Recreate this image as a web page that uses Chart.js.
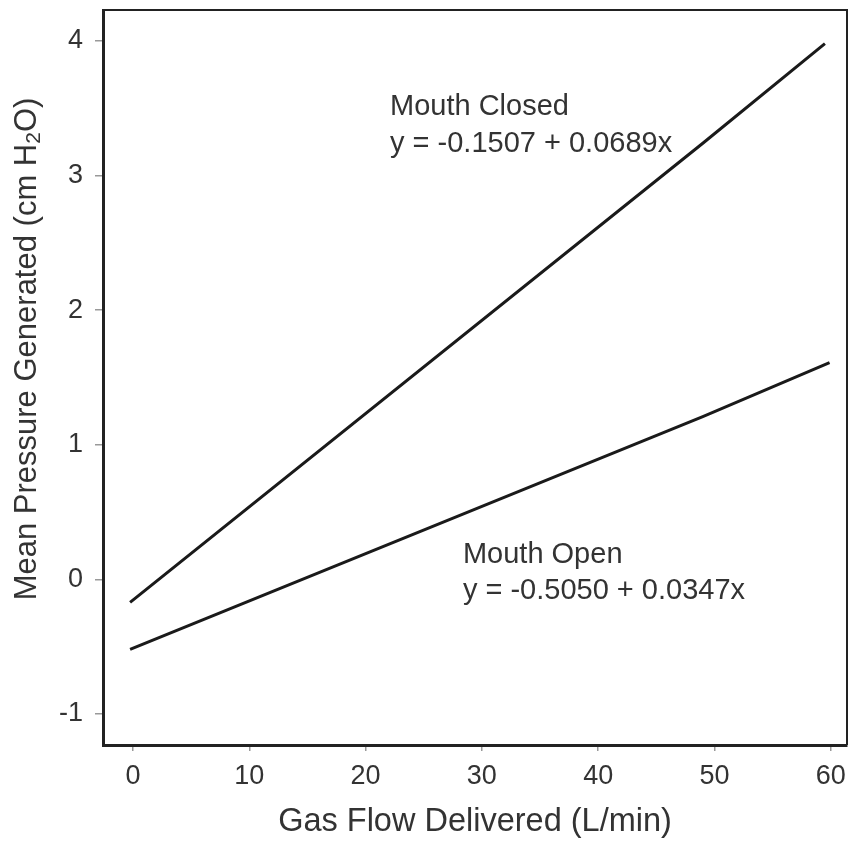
<!DOCTYPE html>
<html>
<head>
<meta charset="utf-8">
<script src="https://cdn.jsdelivr.net/npm/chart.js@4/dist/chart.umd.min.js"></script>
<style>
  html, body { margin: 0; padding: 0; background: #fff; }
  #wrap { width: 851px; height: 842px; }
</style>
</head>
<body>
<div id="wrap"><canvas id="flowChart" width="851" height="842"></canvas></div>
<script>
// -----------------------------------------
// Gas flow vs. mean pressure, two fitted lines
// -----------------------------------------

const xTicks = [0, 10, 20, 30, 40, 50, 60];
const yTicks = [-1, 0, 1, 2, 3, 4];

// fitted line end points (flow, pressure)
const closedFlow = [-0.25, 49, 59.5];
const closedPressure = [-0.17, 3.24, 3.98];
const openFlow = [-0.25, 49, 59.9];
const openPressure = [-0.52, 1.21, 1.61];

// equation labels: [flow, pressure at text baseline, text]
const labels = [
    [22.1, 3.45, "Mouth Closed"],
    [22.1, 3.175, "y = -0.1507 + 0.0689x"],
    [28.37, 0.122, "Mouth Open"],
    [28.37, -0.146, "y = -0.5050 + 0.0347x"]
];

const textColor = "#333";
const fontFamily = "'Liberation Sans', Arial, sans-serif";

function toPoints(xs, ys){
    return xs.map((x, i) => ({ x: x, y: ys[i] }));
}

// y axis title with a real subscript 2
function drawYTitle(c, cx, cy){
    const big = "31px " + fontFamily;
    const small = "21px " + fontFamily;
    const parts = [
        ["Mean Pressure Generated (cm H", big, 0],
        ["2", small, 7],
        ["O)", big, 0]
    ];
    c.save();
    c.translate(cx, cy);
    c.rotate(-Math.PI / 2);
    let total = 0;
    parts.forEach(p => { c.font = p[1]; total += c.measureText(p[0]).width; });
    let x = -total / 2;
    c.textAlign = "left";
    c.textBaseline = "middle";
    parts.forEach(p => {
        c.font = p[1];
        c.fillText(p[0], x, p[2]);
        x += c.measureText(p[0]).width;
    });
    c.restore();
}

// frame round the plot and the text labels
const framePlugin = {
    id: "frame",
    afterDraw(chart){
        const c = chart.ctx;
        const a = chart.chartArea;
        const xs = chart.scales.x;
        const ys = chart.scales.y;
        c.save();
        c.strokeStyle = "#222";
        c.lineWidth = 2;
        c.beginPath();
        c.moveTo(a.left, a.top);
        c.lineTo(a.right, a.top);
        c.lineTo(a.right, a.bottom);
        c.stroke();

        c.fillStyle = textColor;
        c.font = "29px " + fontFamily;
        c.textAlign = "left";
        c.textBaseline = "alphabetic";
        labels.forEach(l => {
            c.fillText(l[2], xs.getPixelForValue(l[0]), ys.getPixelForValue(l[1]));
        });

        drawYTitle(c, 27, 349);
        c.restore();
    }
};

const ctx = document.getElementById("flowChart").getContext("2d");

const flowChart = new Chart(ctx, {
    type: "scatter",
    data: {
        datasets: [
            {
                label: "Mouth Closed",
                data: toPoints(closedFlow, closedPressure),
                showLine: true,
                borderColor: "#1a1a1a",
                borderWidth: 3,
                pointRadius: 0,
                fill: false
            },
            {
                label: "Mouth Open",
                data: toPoints(openFlow, openPressure),
                showLine: true,
                borderColor: "#1a1a1a",
                borderWidth: 3,
                pointRadius: 0,
                fill: false
            }
        ]
    },
    options: {
        responsive: false,
        animation: false,
        layout: { padding: { top: 10, right: 4, left: 0, bottom: 0 } },
        plugins: {
            legend: { display: false },
            tooltip: { enabled: false }
        },
        scales: {
            x: {
                type: "linear",
                min: -2.58,
                max: 61.4,
                afterBuildTicks: s => { s.ticks = xTicks.map(v => ({ value: v })); },
                afterFit: s => { s.height = 97; s.paddingLeft = 0; s.paddingRight = 0; },
                border: { display: true, color: "#222", width: 3 },
                grid: { drawOnChartArea: false, drawTicks: true, tickLength: 6, color: "#999", lineWidth: 1.5 },
                ticks: {
                    color: textColor,
                    padding: 9,
                    maxRotation: 0,
                    font: { family: fontFamily, size: 27 }
                },
                title: {
                    display: true,
                    text: "Gas Flow Delivered (L/min)",
                    color: textColor,
                    padding: { top: 0, bottom: 0 },
                    font: { family: fontFamily, size: 32.5 }
                }
            },
            y: {
                type: "linear",
                min: -1.23,
                max: 4.23,
                afterBuildTicks: s => { s.ticks = yTicks.map(v => ({ value: v })); },
                afterFit: s => { s.width = 103; s.paddingTop = 0; s.paddingBottom = 0; },
                border: { display: true, color: "#222", width: 3 },
                grid: { drawOnChartArea: false, drawTicks: true, tickLength: 8, color: "#999", lineWidth: 1.5 },
                ticks: {
                    color: textColor,
                    padding: 12,
                    font: { family: fontFamily, size: 27 }
                },
                title: { display: false }
            }
        }
    },
    plugins: [framePlugin]
});
</script>
</body>
</html>
